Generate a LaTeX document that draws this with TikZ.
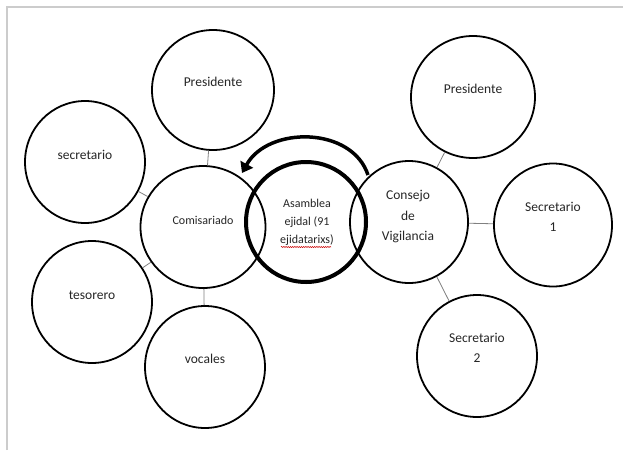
\documentclass[tikz,border=0pt]{standalone}
\usepackage{fontspec}
\setmainfont{Carlito}
\usetikzlibrary{shapes.geometric,arrows.meta,decorations.pathmorphing}
\begin{document}
\begin{tikzpicture}[x=1pt,y=-1pt,
  circ/.style={ellipse,draw=black,line width=1.8pt,inner sep=0pt},
  bigc/.style={ellipse,draw=black,line width=4pt,inner sep=0pt},
  lbl/.style={text=black!85,font=\fontsize{13.5}{20.5}\selectfont,align=center,inner sep=0pt},
  lbls/.style={text=black!85,font=\fontsize{12}{18}\selectfont,align=center,inner sep=0pt},
  link/.style={draw=gray,line width=0.8pt}]
\useasboundingbox (0,0) rectangle (623,450);
\fill[white] (0,0) rectangle (623,450);
% page edge
\draw[black!20,line width=1.2pt] (7,450) -- (7,7) -- (623,7);
% ellipses
\node[circ,minimum width=122pt,minimum height=120pt] (P1) at (213,90) {};
\node[circ,minimum width=120pt,minimum height=122pt] (Se) at (85,162) {};
\node[circ,minimum width=125pt,minimum height=122pt] (Co) at (203,227) {};
\node[circ,minimum width=120pt,minimum height=122pt] (Te) at (92,302) {};
\node[circ,minimum width=120pt,minimum height=122pt] (Vo) at (205,367) {};
\node[bigc,minimum width=120pt,minimum height=120pt] (As) at (306,222) {};
\node[circ,minimum width=118pt,minimum height=122pt] (Cv) at (409,222) {};
\node[circ,minimum width=124pt,minimum height=122pt] (P2) at (473,97) {};
\node[circ,minimum width=118pt,minimum height=123pt] (S1) at (553,225) {};
\node[circ,minimum width=120pt,minimum height=122pt] (S2) at (477,356) {};
% connectors
\draw[link] (P1) -- (Co);
\draw[link] (Se) -- (Co);
\draw[link] (Te) -- (Co);
\draw[link] (Vo) -- (Co);
\draw[link] (P2) -- (Cv);
\draw[link] (S1) -- (Cv);
\draw[link] (S2) -- (Cv);
% labels
\node[lbl] (tP1) at (213,82) {Presidente};
\node[lbl] (tSe) at (85,155) {secretario};
\node[lbls] (tCo) at (203,220) {Comisariado};
\node[lbl] (tTe) at (92,295) {tesorero};
\node[lbl] (tVo) at (205,359) {vocales};
\node[lbls] (tAs) at (307,222) {Asamblea\\ejidal (91\\ejidatarixs)};
\node[lbl] (tCv) at (408,217) {Consejo\\de\\Vigilancia};
\node[lbl] (tP2) at (473,89) {Presidente};
\node[lbl] (tS1) at (553,217) {Secretario\\1};
\node[lbl] (tS2) at (477,348) {Secretario\\2};
% spell-check underline
\coordinate (u1) at (281,247);
\coordinate (u2) at (331,247);
\draw[red!80!black,line width=0.5pt,decorate,decoration={snake,amplitude=0.6pt,segment length=2.2pt}] (u1) -- (u2);
% curved arrow
\coordinate (a1) at (368,175);
\coordinate (a2) at (242,173);
\draw[line width=3.5pt,-{Triangle[length=10pt,width=14pt]}] (a1) .. controls (352,126) and (268,126) .. (a2);
\end{tikzpicture}
\end{document}
